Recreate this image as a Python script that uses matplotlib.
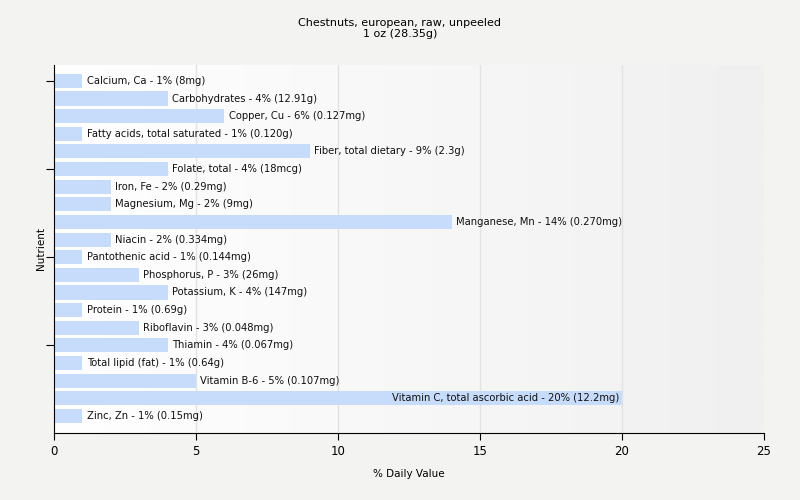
import matplotlib
matplotlib.use("Agg")
import matplotlib.pyplot as plt
import numpy as np

nutrients = ["Calcium, Ca", "Carbohydrates", "Copper, Cu", "Fatty acids, total saturated",
             "Fiber, total dietary", "Folate, total", "Iron, Fe", "Magnesium, Mg",
             "Manganese, Mn", "Niacin", "Pantothenic acid", "Phosphorus, P",
             "Potassium, K", "Protein", "Riboflavin", "Thiamin", "Total lipid (fat)",
             "Vitamin B-6", "Vitamin C, total ascorbic acid", "Zinc, Zn"]
values = [1, 4, 6, 1, 9, 4, 2, 2, 14, 2, 1, 3, 4, 1, 3, 4, 1, 5, 20, 1]
amounts = ["8mg", "12.91g", "0.127mg", "0.120g", "2.3g", "18mcg", "0.29mg", "9mg",
           "0.270mg", "0.334mg", "0.144mg", "26mg", "147mg", "0.69g", "0.048mg",
           "0.067mg", "0.64g", "0.107mg", "12.2mg", "0.15mg"]

bg = "#f3f3f1"
fig = plt.figure(figsize=(8, 5), dpi=100, facecolor=bg)
ax = fig.add_axes([0.0675, 0.134, 0.8875, 0.736])
ax.set_facecolor(bg)

# gradient plot background, white to light grey
grad = np.linspace(0, 1, 256).reshape(1, -1)
ax.imshow(grad, extent=[0, 1, 0, 1], transform=ax.transAxes, aspect="auto",
          cmap=matplotlib.colors.LinearSegmentedColormap.from_list("g", ["#ffffff", "#f0f0f0"]),
          interpolation="bilinear", zorder=0)

y = np.arange(len(nutrients))
ax.set_xlim(0, 25)
ax.set_ylim(19.97, -0.9)
for gx in [5, 10, 15, 20]:
    ax.axvline(gx, color="#e2e2e2", lw=1, zorder=1)

ax.barh(y, values, height=0.8, color="#c6dcfa", zorder=2)

for yi, v, n, a in zip(y, values, nutrients, amounts):
    label = f"{n} - {v}% ({a})"
    if v >= 18:
        ax.text(v - 0.1, yi, label, ha="right", va="center", fontsize=7.2, color="#111111", zorder=3)
    else:
        ax.text(v + 0.15, yi, label, ha="left", va="center", fontsize=7.2, color="#111111", zorder=3)

ax.set_yticks([0, 5, 10, 15])
ax.set_yticklabels([])
ax.set_xticks([0, 5, 10, 15, 20, 25])
ax.tick_params(axis="x", labelsize=8.5, length=5, color="black")
ax.tick_params(axis="y", length=6, color="black")
for s in ["top", "right"]:
    ax.spines[s].set_visible(False)

ax.set_xlabel("% Daily Value", fontsize=7.5, labelpad=8)
ax.set_ylabel("Nutrient", fontsize=7.5, labelpad=-4)
fig.suptitle("Chestnuts, european, raw, unpeeled\n1 oz (28.35g)", fontsize=8, y=0.965)

fig.savefig("out.png", dpi=100, facecolor=bg)
